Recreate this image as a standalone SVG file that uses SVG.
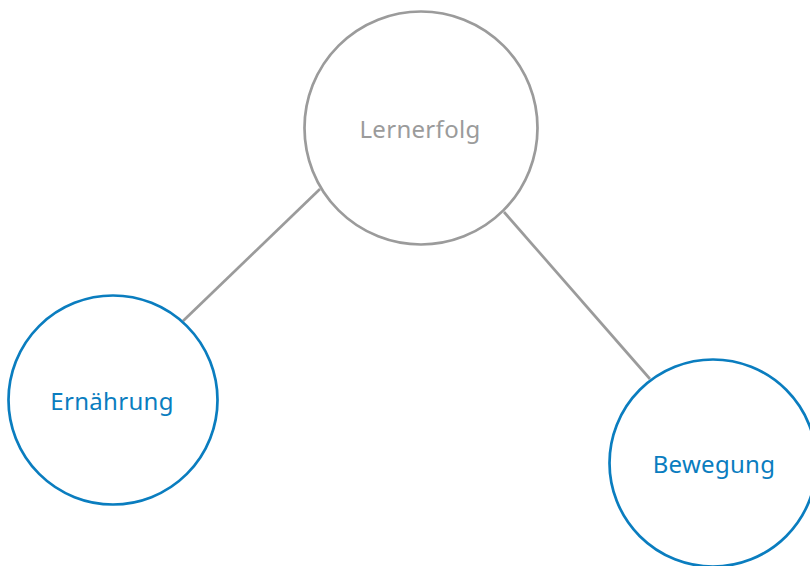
<svg xmlns="http://www.w3.org/2000/svg" width="810" height="566" viewBox="0 0 810 566">
<style>
.gray{fill:#fff;stroke:#9b9b9b;stroke-width:2.7}
.blue{fill:#fff;stroke:#0a7dbf;stroke-width:2.7}
.conn{stroke:#9b9b9b;stroke-width:2.7;fill:none}
text{font-family:"Noto Sans","Liberation Sans",sans-serif;font-size:24px;letter-spacing:0.3px;text-anchor:middle;dominant-baseline:central}
.tg{fill:#9b9b9b}
.tb{fill:#0a7dbf}
</style>
<rect width="810" height="566" fill="#fff"/>
<g id="connectors">
<line class="conn" x1="320" y1="189" x2="183" y2="321"/>
<line class="conn" x1="504" y1="212" x2="650" y2="379"/>
</g>
<g id="lernerfolg">
<circle class="gray" cx="421" cy="128" r="116.5"/>
<text class="tg" x="420" y="128">Lernerfolg</text>
</g>
<g id="ernaehrung">
<circle class="blue" cx="113" cy="400" r="104.5"/>
<text class="tb" x="112" y="400">Ernährung</text>
</g>
<g id="bewegung">
<circle class="blue" cx="713" cy="463" r="103.5"/>
<text class="tb" x="714" y="463">Bewegung</text>
</g>
</svg>
